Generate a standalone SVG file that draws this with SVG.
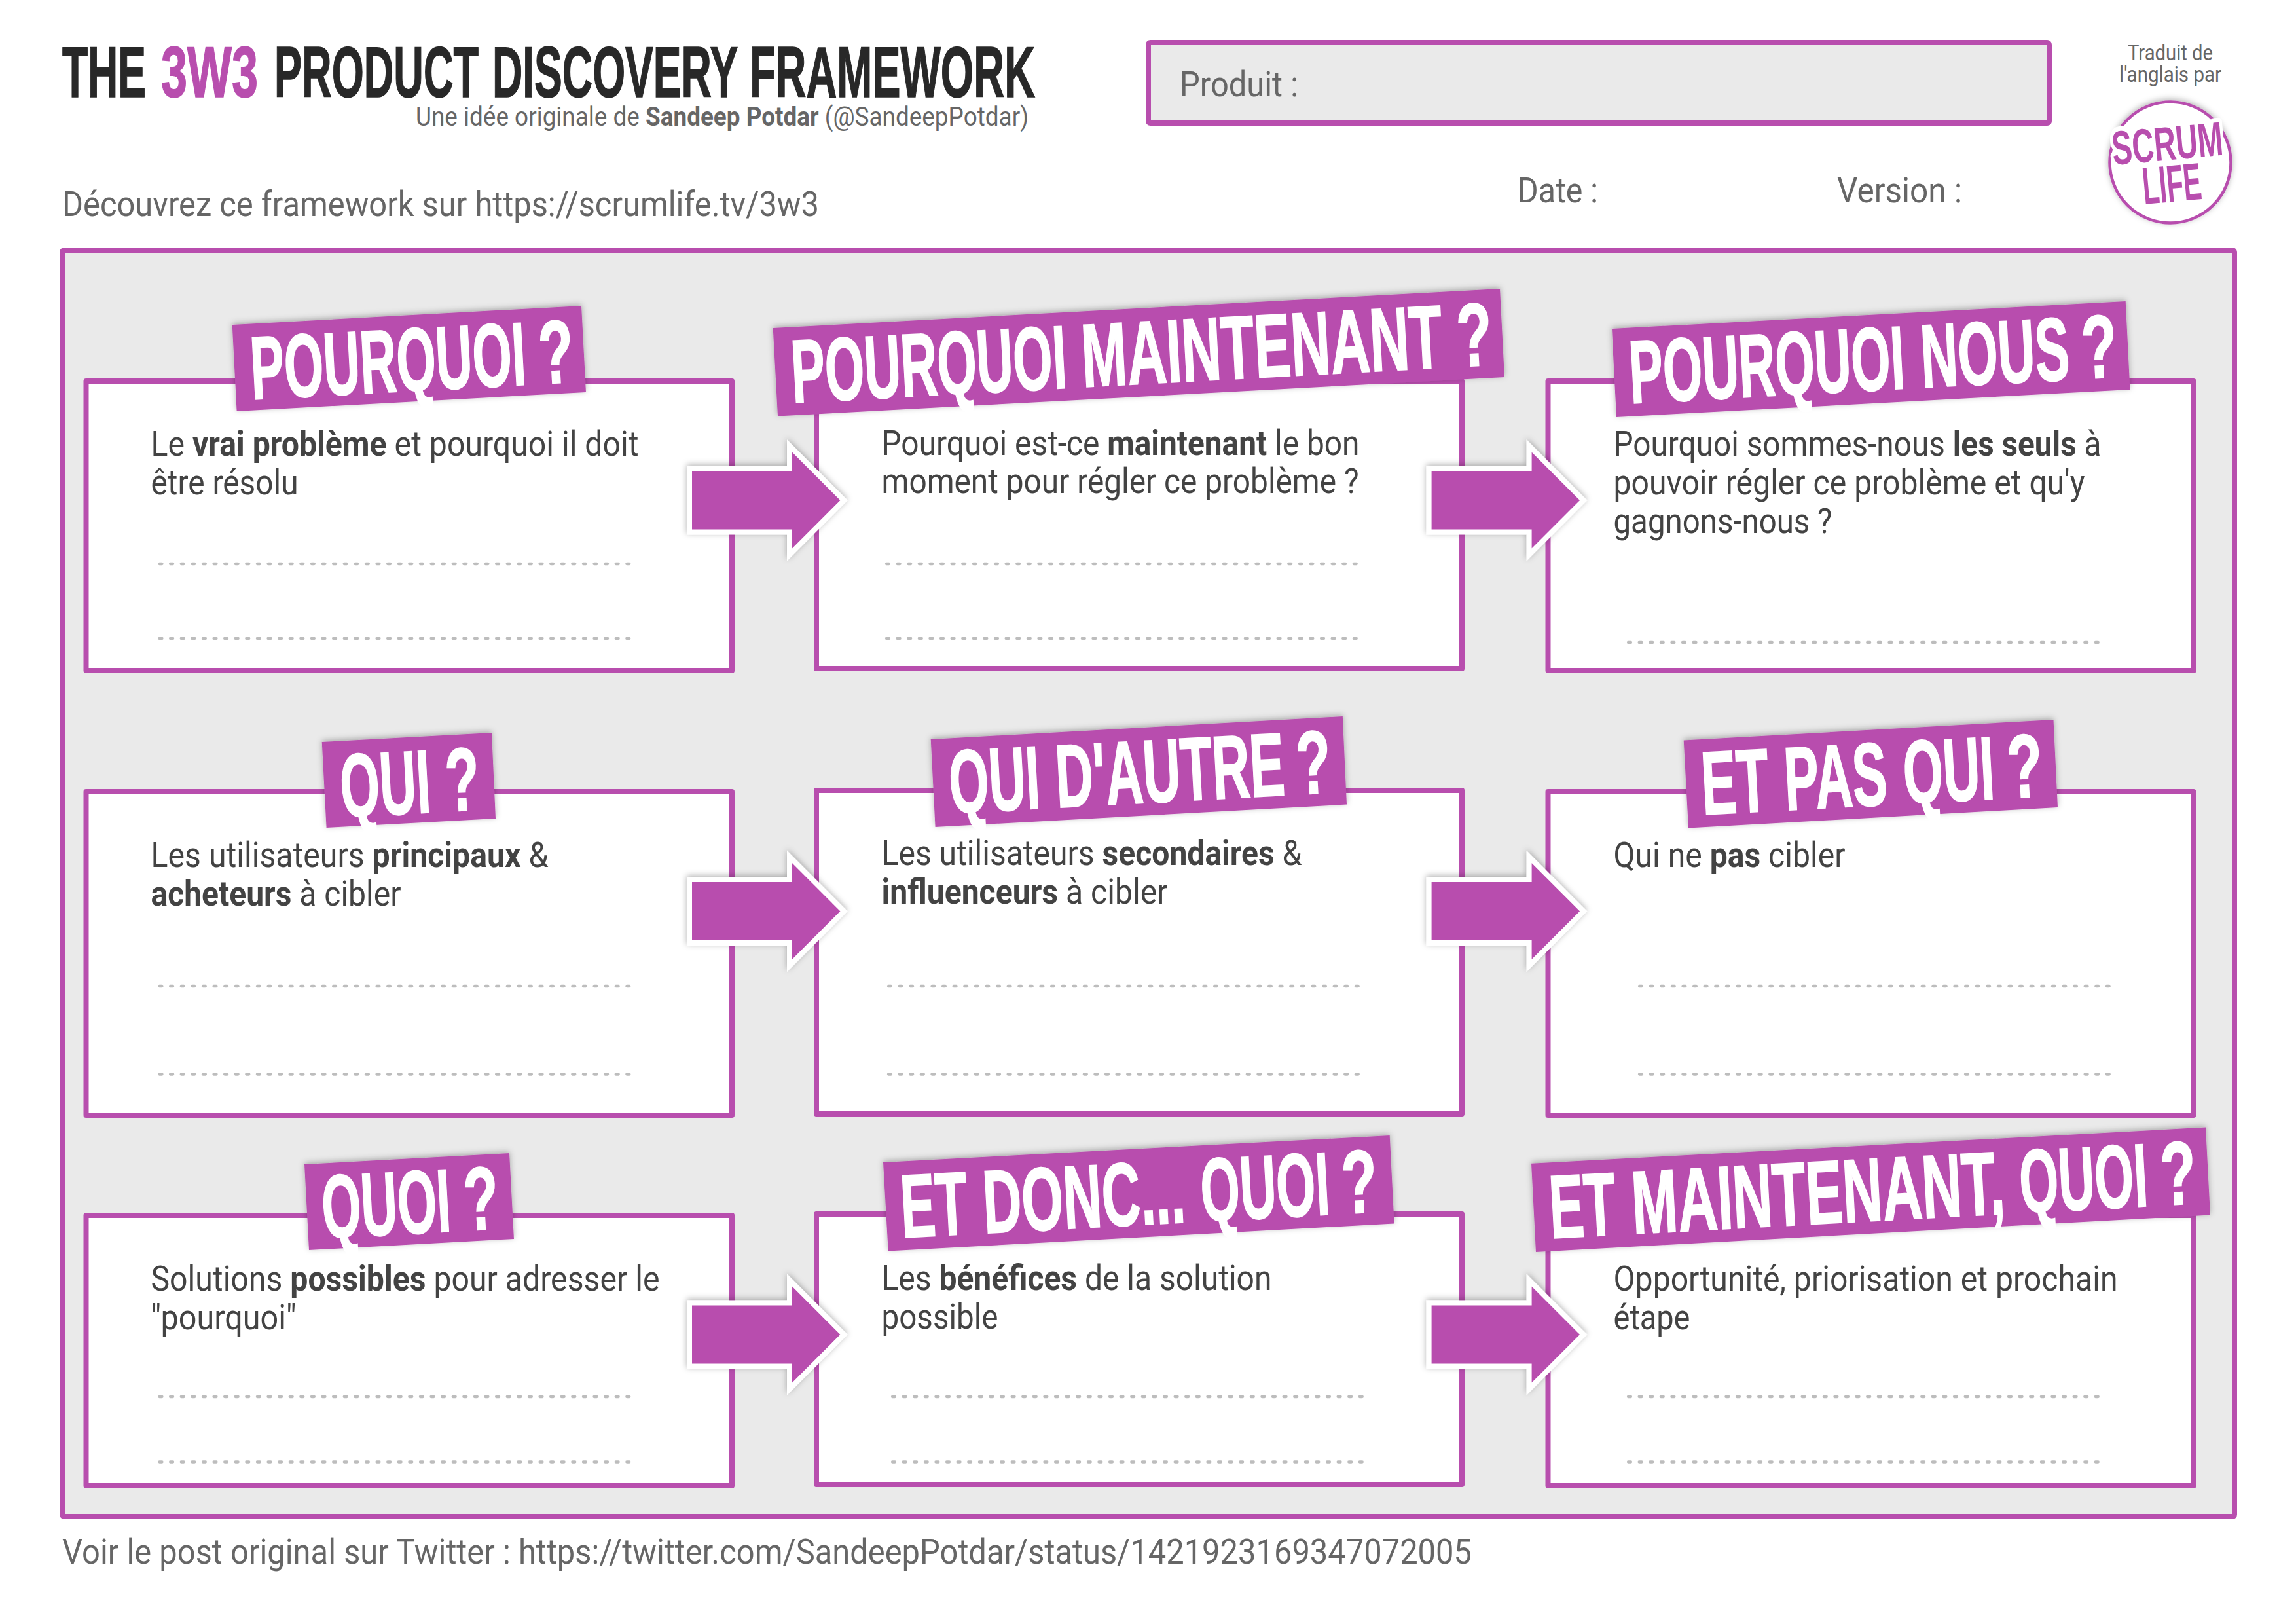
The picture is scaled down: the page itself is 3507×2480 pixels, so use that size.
<svg xmlns="http://www.w3.org/2000/svg" width="3507" height="2480" viewBox="0 0 3507 2480">
<style>
text{font-family:"Roboto","Liberation Sans",sans-serif;white-space:pre}
.box{fill:#fff;stroke:#b84eae;stroke-width:8;stroke-linejoin:round}
.lab{fill:#b84eae;filter:url(#sh)}
.lt{font-family:"Liberation Sans Narrow","Liberation Sans",sans-serif;font-weight:700;font-size:137px;fill:#fff;stroke:#fff;stroke-width:2}
.b{font-size:54px;fill:#434343}
.b tspan,.m tspan{font-weight:700}
.m{font-size:54px;fill:#666}
.d{stroke:#bdbdbd;stroke-width:4.300;stroke-linecap:round;stroke-dasharray:4 12.600;stroke-dashoffset:-2;fill:none}
.arr{fill:#b84eae;stroke:#fff;stroke-width:8;stroke-miterlimit:8;filter:url(#sh)}
.ttl{font-family:"Liberation Sans Narrow","Liberation Sans",sans-serif;font-weight:700;font-size:110px;fill:#282828;stroke:#282828;stroke-width:1.500}
.logo{font-family:"Liberation Sans Narrow","Liberation Sans",sans-serif;font-weight:700;fill:#b84eae;stroke:#fff;paint-order:stroke;stroke-linejoin:round}
</style>
<defs>
<filter id="sh" x="-10%" y="-20%" width="120%" height="140%"><feDropShadow dx="0" dy="-2" stdDeviation="5" flood-color="#000" flood-opacity=".3"/></filter>
<path id="a" d="M1053 715.500H1206V681L1289 764 1206 847V812.500H1053Z"/>
</defs>
<rect width="3507" height="2480" fill="#fff"/>
<g id="header">
<text class="ttl" y="148"><tspan x="95" textLength="128" lengthAdjust="spacingAndGlyphs">THE</tspan> <tspan x="246" textLength="148" lengthAdjust="spacingAndGlyphs" fill="#b84eae" stroke="#b84eae">3W3</tspan> <tspan x="419" textLength="312" lengthAdjust="spacingAndGlyphs">PRODUCT</tspan> <tspan x="752" textLength="374" lengthAdjust="spacingAndGlyphs">DISCOVERY</tspan> <tspan x="1145" textLength="436" lengthAdjust="spacingAndGlyphs">FRAMEWORK</tspan></text>
<text x="635" y="192" font-size="40" fill="#666" textLength="936" lengthAdjust="spacingAndGlyphs">Une idée originale de <tspan font-weight="700">Sandeep Potdar</tspan> (@SandeepPotdar)</text>
<text class="m" x="95" y="330" textLength="1156" lengthAdjust="spacingAndGlyphs">Découvrez ce framework sur https://scrumlife.tv/3w3</text>
<rect x="1754" y="65" width="1376" height="123" rx="3" fill="#eaeaea" stroke="#b84eae" stroke-width="8"/>
<text class="m" x="1802" y="147" textLength="181" lengthAdjust="spacingAndGlyphs">Produit :</text>
<text class="m" x="2318" y="309" textLength="123" lengthAdjust="spacingAndGlyphs">Date :</text>
<text class="m" x="2806" y="309" textLength="191" lengthAdjust="spacingAndGlyphs">Version :</text>
<text x="3250" y="92" font-size="33" fill="#666" textLength="130" lengthAdjust="spacingAndGlyphs">Traduit de</text>
<text x="3237" y="125" font-size="33" fill="#666" textLength="156" lengthAdjust="spacingAndGlyphs">l'anglais par</text>
</g>
<g id="logo">
<circle cx="3315" cy="248" r="92.500" fill="#fff" stroke="#b84eae" stroke-width="4.500" filter="url(#sh)"/>
<text class="logo" x="3228" y="252" font-size="73" stroke-width="14" textLength="170" lengthAdjust="spacingAndGlyphs" transform="rotate(-5.200 3228 252)">SCRUM</text>
<text class="logo" x="3275" y="312" font-size="80" stroke-width="0" textLength="90" lengthAdjust="spacingAndGlyphs" transform="rotate(-5.200 3275 312)">LIFE</text>
</g>
<rect id="frame" x="95" y="382" width="3318" height="1934" rx="3" fill="#eaeaea" stroke="#b84eae" stroke-width="8"/>

<g id="pourquoi">
<rect class="box" x="131.500" y="582" width="986.500" height="442"/>
<polygon class="lab" points="354.700,496 888,467 895,599 361.600,628"/>
<text class="lt" y="610" transform="rotate(-3.100 387 610)"><tspan x="385" textLength="421" lengthAdjust="spacingAndGlyphs">POURQUOI</tspan> <tspan x="826" textLength="53" lengthAdjust="spacingAndGlyphs">?</tspan></text>
<text class="b" x="230.500" y="696" textLength="745" lengthAdjust="spacingAndGlyphs">Le <tspan>vrai problème</tspan> et pourquoi il doit</text>
<text class="b" x="230.500" y="755" textLength="225" lengthAdjust="spacingAndGlyphs">être résolu</text>
<path class="d" d="M241.500 861H970M241.500 975H970"/>
</g>
<g id="pourquoi-maintenant">
<rect class="box" x="1247" y="582" width="986" height="439"/>
<polygon class="lab" points="1180.700,501 2291,441 2298,576 1188,635.500"/>
<text class="lt" y="615" transform="rotate(-3.100 1212 615)"><tspan x="1211" textLength="421" lengthAdjust="spacingAndGlyphs">POURQUOI</tspan> <tspan x="1655" textLength="552" lengthAdjust="spacingAndGlyphs">MAINTENANT</tspan> <tspan x="2229" textLength="54" lengthAdjust="spacingAndGlyphs">?</tspan></text>
<text class="b" x="1346.500" y="695" textLength="730" lengthAdjust="spacingAndGlyphs">Pourquoi est-ce <tspan>maintenant</tspan> le bon</text>
<text class="b" x="1346.500" y="753" textLength="729" lengthAdjust="spacingAndGlyphs">moment pour régler ce problème ?</text>
<path class="d" d="M1352 861H2081M1352 975H2081"/>
</g>
<g id="pourquoi-nous">
<rect class="box" x="2364.500" y="582" width="986" height="442"/>
<polygon class="lab" points="2462,502 3246.700,460 3253.500,595 2469,637"/>
<text class="lt" y="616" transform="rotate(-3.100 2490 616)"><tspan x="2491" textLength="421" lengthAdjust="spacingAndGlyphs">POURQUOI</tspan> <tspan x="2937" textLength="227" lengthAdjust="spacingAndGlyphs">NOUS</tspan> <tspan x="3183" textLength="54" lengthAdjust="spacingAndGlyphs">?</tspan></text>
<text class="b" x="2464.500" y="696" textLength="745" lengthAdjust="spacingAndGlyphs">Pourquoi sommes-nous <tspan>les seuls</tspan> à</text>
<text class="b" x="2464.500" y="755" textLength="720" lengthAdjust="spacingAndGlyphs">pouvoir régler ce problème et qu'y</text>
<text class="b" x="2464.500" y="814" textLength="334" lengthAdjust="spacingAndGlyphs">gagnons-nous ?</text>
<path class="d" d="M2485 981H3215"/>
</g>
<g id="qui">
<rect class="box" x="131.500" y="1209" width="986.500" height="494"/>
<polygon class="lab" points="491.700,1133 751,1119 757,1250 498.600,1264"/>
<text class="lt" y="1248" transform="rotate(-3.100 521 1248)"><tspan x="522" textLength="138" lengthAdjust="spacingAndGlyphs">QUI</tspan> <tspan x="683" textLength="52" lengthAdjust="spacingAndGlyphs">?</tspan></text>
<text class="b" x="230.500" y="1323.500" textLength="607" lengthAdjust="spacingAndGlyphs">Les utilisateurs <tspan>principaux</tspan> &amp;</text>
<text class="b" x="230.500" y="1382.500" textLength="382" lengthAdjust="spacingAndGlyphs"><tspan>acheteurs</tspan> à cibler</text>
<path class="d" d="M241.500 1506H970M241.500 1640.500H970"/>
</g>
<g id="qui-d-autre">
<rect class="box" x="1247" y="1207" width="986" height="494"/>
<polygon class="lab" points="1421.700,1129 2050.800,1094 2057,1228.600 1428.600,1263"/>
<text class="lt" y="1242" transform="rotate(-3.100 1451 1242)"><tspan x="1452" textLength="139" lengthAdjust="spacingAndGlyphs">QUI</tspan> <tspan x="1615" textLength="350" lengthAdjust="spacingAndGlyphs">D'AUTRE</tspan> <tspan x="1983" textLength="53" lengthAdjust="spacingAndGlyphs">?</tspan></text>
<text class="b" x="1346.500" y="1321" textLength="642" lengthAdjust="spacingAndGlyphs">Les utilisateurs <tspan>secondaires</tspan> &amp;</text>
<text class="b" x="1346.500" y="1380" textLength="437" lengthAdjust="spacingAndGlyphs"><tspan>influenceurs</tspan> à cibler</text>
<path class="d" d="M1355 1506H2084M1355 1640.500H2084"/>
</g>
<g id="et-pas-qui">
<rect class="box" x="2364.500" y="1209" width="986" height="494"/>
<polygon class="lab" points="2571.700,1130.600 3136.500,1099 3143,1233 2579,1264.600"/>
<text class="lt" y="1244" transform="rotate(-3.100 2601 1244)"><tspan x="2601" textLength="103" lengthAdjust="spacingAndGlyphs">ET</tspan> <tspan x="2728" textLength="157" lengthAdjust="spacingAndGlyphs">PAS</tspan> <tspan x="2910" textLength="139" lengthAdjust="spacingAndGlyphs">QUI</tspan> <tspan x="3069" textLength="54" lengthAdjust="spacingAndGlyphs">?</tspan></text>
<text class="b" x="2464.500" y="1323.500" textLength="354" lengthAdjust="spacingAndGlyphs">Qui ne <tspan>pas</tspan> cibler</text>
<path class="d" d="M2502 1506H3231M2502 1640.500H3231"/>
</g>
<g id="quoi">
<rect class="box" x="131.500" y="1856" width="986.500" height="413"/>
<polygon class="lab" points="465,1778 778,1761 785,1892 472,1909"/>
<text class="lt" y="1891" transform="rotate(-3.100 494 1891)"><tspan x="494" textLength="197" lengthAdjust="spacingAndGlyphs">QUOI</tspan> <tspan x="711" textLength="53" lengthAdjust="spacingAndGlyphs">?</tspan></text>
<text class="b" x="230.500" y="1970.500" textLength="777" lengthAdjust="spacingAndGlyphs">Solutions <tspan>possibles</tspan> pour adresser le</text>
<text class="b" x="230.500" y="2029.500" textLength="222" lengthAdjust="spacingAndGlyphs">"pourquoi"</text>
<path class="d" d="M241.500 2133H970M241.500 2232.500H970"/>
</g>
<g id="et-donc-quoi">
<rect class="box" x="1247" y="1854" width="986" height="413"/>
<polygon class="lab" points="1349,1775 2122.700,1734 2129.600,1868.500 1356.700,1910.600"/>
<text class="lt" y="1890" transform="rotate(-3.100 1378 1890)"><tspan x="1378" textLength="102" lengthAdjust="spacingAndGlyphs">ET</tspan> <tspan x="1504" textLength="309" lengthAdjust="spacingAndGlyphs">DONC...</tspan> <tspan x="1837" textLength="197" lengthAdjust="spacingAndGlyphs">QUOI</tspan> <tspan x="2053" textLength="54" lengthAdjust="spacingAndGlyphs">?</tspan></text>
<text class="b" x="1346.500" y="1969.500" textLength="596" lengthAdjust="spacingAndGlyphs">Les <tspan>bénéfices</tspan> de la solution</text>
<text class="b" x="1346.500" y="2028.500" textLength="178" lengthAdjust="spacingAndGlyphs">possible</text>
<path class="d" d="M1361 2133H2090M1361 2232.500H2090"/>
</g>
<g id="et-maintenant-quoi">
<rect class="box" x="2364.500" y="1856" width="986" height="413"/>
<polygon class="lab" points="2339,1776.700 3369,1721.600 3376,1855.500 2346,1912"/>
<text class="lt" y="1891" transform="rotate(-3.100 2369 1891)"><tspan x="2369" textLength="101" lengthAdjust="spacingAndGlyphs">ET</tspan> <tspan x="2495" textLength="570" lengthAdjust="spacingAndGlyphs">MAINTENANT,</tspan> <tspan x="3088" textLength="196" lengthAdjust="spacingAndGlyphs">QUOI</tspan> <tspan x="3304" textLength="54" lengthAdjust="spacingAndGlyphs">?</tspan></text>
<text class="b" x="2464.500" y="1970.500" textLength="770" lengthAdjust="spacingAndGlyphs">Opportunité, priorisation et prochain</text>
<text class="b" x="2464.500" y="2029.500" textLength="117" lengthAdjust="spacingAndGlyphs">étape</text>
<path class="d" d="M2485 2133H3215M2485 2232.500H3215"/>
</g>
<g id="connectors">
<use href="#a" class="arr"/>
<use href="#a" class="arr" x="1129.600"/>
<use href="#a" class="arr" y="627.500"/>
<use href="#a" class="arr" x="1129.600" y="627.500"/>
<use href="#a" class="arr" y="1274"/>
<use href="#a" class="arr" x="1129.600" y="1274"/>
</g>
<text id="footer" class="m" x="95" y="2388" textLength="2153" lengthAdjust="spacingAndGlyphs">Voir le post original sur Twitter : https://twitter.com/SandeepPotdar/status/1421923169347072005</text>
</svg>
